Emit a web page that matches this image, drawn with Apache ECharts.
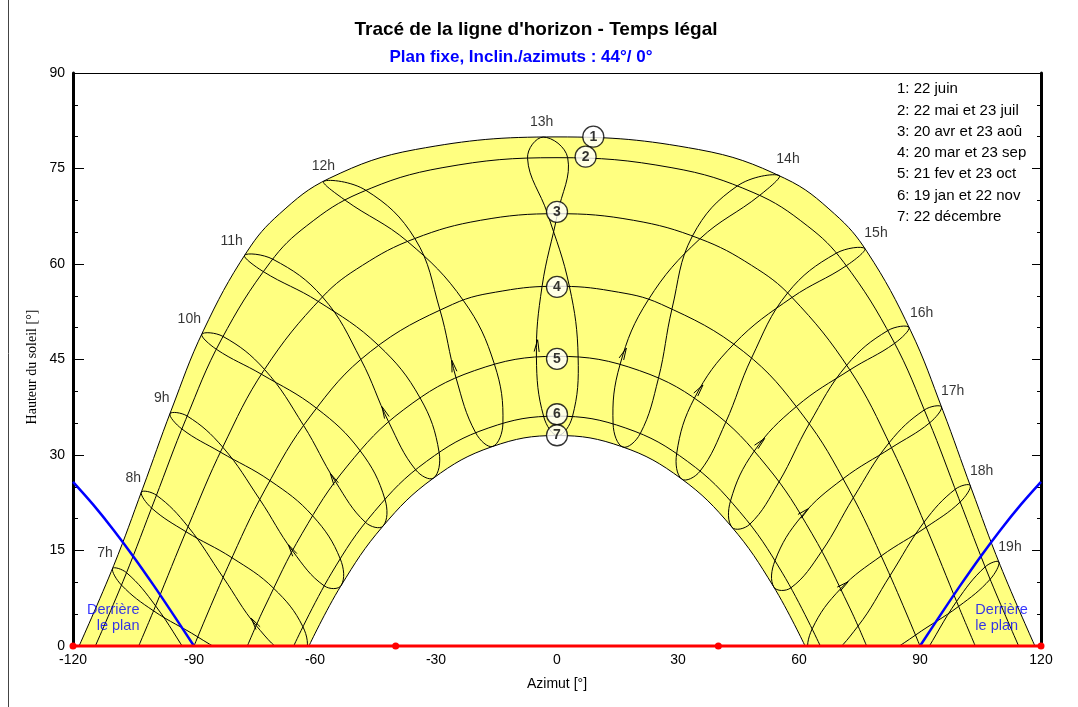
<!DOCTYPE html>
<html>
<head>
<meta charset="utf-8">
<script src="https://cdn.jsdelivr.net/npm/echarts@6/dist/echarts.min.js"></script>
<style>html,body{margin:0;padding:0;background:#fff}#c{width:1078px;height:707px}</style>
</head>
<body>
<div id="c"></div>
<script>
// ---- Date curves [azimut, hauteur] ----
const curve1 = [[-118.49,0],[-109.88,12.68],[-102.76,24.68],[-95.65,37.02],[-87.70,49.50],[-76.90,61.90],[-68.81,67.87],[-56.45,73.46],[-35.11,77.98],[0,79.96],[35.11,77.98],[56.45,73.46],[68.81,67.87],[76.90,61.90],[87.70,49.50],[95.65,37.02],[102.76,24.68],[109.88,12.68],[118.49,0]];
const curve2 = [[-114.46,0],[-107.06,10.99],[-99.63,23.15],[-92.04,35.58],[-83.27,48.07],[-71.10,60.26],[-62.04,66.01],[-48.83,71.18],[-28.50,75.12],[0,76.70],[28.50,75.12],[48.83,71.18],[62.04,66.01],[71.10,60.26],[83.27,48.07],[92.04,35.58],[99.63,23.15],[107.06,10.99],[114.46,0]];
const curve3 = [[-103.71,0],[-99.55,6.26],[-91.50,18.70],[-82.90,31.19],[-72.56,43.40],[-58.21,54.79],[-48.23,59.79],[-35.34,63.98],[-19.00,66.86],[0,67.90],[19.00,66.86],[35.34,63.98],[48.23,59.79],[58.21,54.79],[72.56,43.40],[82.90,31.19],[91.50,18.70],[99.55,6.26],[103.71,0]];
const curve4 = [[-90,0],[-81.59,12.46],[-72.32,24.64],[-61.10,36.13],[-46.29,46.23],[-25.90,53.66],[-13.42,55.77],[0,56.50],[13.42,55.77],[25.90,53.66],[46.29,46.23],[61.10,36.13],[72.32,24.64],[81.59,12.46],[90,0]];
const curve5 = [[-76.77,0],[-72.48,6.12],[-63.17,17.70],[-52.00,28.26],[-37.99,37.13],[-20.42,43.26],[0,45.50],[20.42,43.26],[37.99,37.13],[52.00,28.26],[63.17,17.70],[72.48,6.12],[76.77,0]];
const curve6 = [[-65.29,0],[-55.91,11.44],[-45.27,21.12],[-32.39,28.98],[-17.06,34.23],[0,36.10],[17.06,34.23],[32.39,28.98],[45.27,21.12],[55.91,11.44],[65.29,0]];
const curve7 = [[-61.51,0],[-53.64,9.38],[-43.25,18.75],[-30.77,26.30],[-16.13,31.30],[0,33.06],[16.13,31.30],[30.77,26.30],[43.25,18.75],[53.64,9.38],[61.51,0]];

// ---- Hour analemmas: 22 dec, 19 jan, 21 fev, 20 mar, 20 avr, 22 mai, 22 juin, 23 juil, 23 aou, 23 sep, 23 oct, 22 nov ----
const h07 = [[-70.00,-12.50],[-74.20,-13.37],[-82.75,-9.06],[-91.13,-1.71],[-99.52,6.30],[-106.73,11.51],[-110.19,12.17],[-107.97,9.56],[-100.03,5.52],[-89.06,1.42],[-78.77,-2.97],[-71.09,-8.48]];
const h08 = [[-62.32,-1.08],[-66.44,-1.60],[-74.57,3.20],[-82.77,10.77],[-91.47,18.74],[-99.31,23.68],[-103.06,24.16],[-100.52,21.67],[-91.99,17.95],[-80.58,13.86],[-70.28,9.08],[-63.01,3.04]];
const h09 = [[-53.51,9.51],[-57.72,9.45],[-65.57,14.95],[-73.69,23.01],[-82.87,31.23],[-91.69,36.12],[-95.96,36.48],[-92.99,34.08],[-83.45,30.45],[-71.19,25.99],[-60.59,20.45],[-53.74,13.69]];
const h10 = [[-43.10,18.86],[-47.45,19.40],[-54.93,25.83],[-62.81,34.62],[-72.52,43.44],[-82.84,48.63],[-88.06,48.97],[-84.44,46.60],[-73.27,42.68],[-59.64,37.36],[-48.81,30.67],[-42.65,23.03]];
const h11 = [[-30.59,26.39],[-35.03,27.66],[-41.72,35.17],[-48.61,44.97],[-58.15,54.83],[-70.43,60.74],[-77.47,61.38],[-72.88,58.83],[-59.27,54.15],[-44.29,47.24],[-33.94,38.96],[-29.22,30.39]];
const h12 = [[-15.92,31.35],[-20.15,33.47],[-25.02,42.09],[-29.06,52.87],[-35.24,64.00],[-47.40,71.58],[-57.81,73.00],[-52.52,70.02],[-37.09,63.55],[-23.19,54.24],[-15.50,44.23],[-13.41,34.96]];
const h13 = [[0.22,33.06],[-3.30,36.03],[-5.10,45.36],[-3.71,56.45],[0.13,67.90],[2.65,76.69],[-3.41,79.93],[-7.31,76.61],[-2.34,67.89],[3.08,56.47],[5.24,45.36],[3.82,36.01]];
const h14 = [[16.34,31.25],[13.91,34.87],[15.63,44.21],[22.62,54.36],[35.44,63.96],[50.21,70.76],[55.07,73.91],[44.73,72.27],[33.59,64.41],[28.53,53.01],[25.15,42.05],[20.63,33.35]];
const h15 = [[30.95,26.21],[29.66,30.20],[34.06,38.91],[43.88,47.45],[58.27,54.75],[71.76,59.74],[76.30,62.43],[69.19,61.68],[57.15,55.43],[48.21,45.19],[41.82,35.12],[35.44,27.44]];
const h16 = [[43.40,18.64],[43.01,22.77],[48.90,30.61],[59.34,37.61],[72.60,43.36],[83.69,47.53],[87.28,50.05],[82.06,49.56],[71.85,44.12],[62.52,34.88],[55.02,25.75],[47.79,19.12]];
const h17 = [[53.77,9.25],[54.04,13.39],[60.66,20.38],[70.93,26.27],[82.93,31.15],[92.38,35.04],[95.32,37.56],[91.08,37.08],[82.35,31.93],[73.47,23.29],[65.63,14.87],[58.00,9.14]];
const h18 = [[62.54,-1.38],[63.28,2.70],[70.33,9.00],[80.39,14.15],[91.53,18.66],[99.95,22.61],[102.46,25.21],[98.75,24.63],[91.01,19.45],[82.58,11.06],[74.62,3.12],[66.68,-1.94]];
const h19 = [[70.23,-12.80],[71.33,-8.83],[78.82,-3.05],[88.87,1.71],[99.58,6.22],[107.38,10.47],[109.56,13.20],[106.15,12.43],[99.07,7.00],[90.94,-1.42],[82.80,-9.14],[74.42,-13.73]];
const hourCurves = [h07,h08,h09,h10,h11,h12,h13,h14,h15,h16,h17,h18,h19];

// ---- Hour labels ----
const hourLabels = ['7h','8h','9h','10h','11h','12h','13h','14h','15h','16h','17h','18h','19h'];
const hourLabelAz = [-112.07,-105.05,-98.01,-91.17,-80.66,-57.94,-3.79,57.27,79.09,90.42,98.10,105.29,112.31];
const hourLabelAlt = [14.56,26.42,38.91,51.31,63.66,75.39,82.26,76.44,64.82,52.26,40.05,27.53,15.60];

// ---- Date markers and legend ----
const dateMarks = ['1','2','3','4','5','6','7'];
const dateMarkAz = [9.0,7.1,0,0,0,0,0];
const dateMarkAlt = [80.0,76.85,68.2,56.4,45.1,36.4,33.1];
const legendLines = ['1: 22 juin','2: 22 mai et 23 juil','3: 20 avr et 23 aoû','4: 20 mar et 23 sep','5: 21 fev et 23 oct','6: 19 jan et 22 nov','7: 22 décembre'];

// ---- Direction arrows (21 fev -> 20 mar segment) ----
const arrowPts = [[-75.8,4.35],[-66.6,15.9],[-56.2,27.1],[-43.4,37.6],[-26.1,44.9],[-4.8,48.1],[17.2,46.8],[36.2,41.0],[51.5,32.6],[62.4,21.6],[72.2,10.1]];
const arrowHour = [1,2,3,4,5,6,7,8,9,10,11];

// ---- Plane limit (Derriere le plan) ----
const planeLeftAz = [-120,-115,-110,-105,-100,-95,-90];
const planeLeftAlt = [25.78,22.20,18.27,14.03,9.52,4.81,0];
const planeRightAz = [90,95,100,105,110,115,120];
const planeRightAlt = [0,4.81,9.52,14.03,18.27,22.20,25.78];
const behindText = 'Derrière\nle plan';
const behindAz = [-103.4,103.6];
const behindAlt = [4.4,4.4];

// ---- Horizon ----
const horizonAz = [-120,-40,40,120];
const horizonAlt = [0,0,0,0];

const FONT = 'Liberation Sans, Arial, sans-serif';
const chart = echarts.init(document.getElementById('c'), null, {renderer:'canvas'});

function dateLine(data, extra) {
  return Object.assign({type:'line', data:data, symbol:'none', smooth:0.4, silent:true, z:2,
    lineStyle:{color:'#000', width:1}}, extra || {});
}

const series = [
  dateLine(curve1, {areaStyle:{color:'#ffff80', opacity:1, origin:'start'}}),
  dateLine(curve7, {areaStyle:{color:'#ffffff', opacity:1, origin:'start'}}),
  dateLine(curve2), dateLine(curve3), dateLine(curve4), dateLine(curve5), dateLine(curve6),
  {
    type:'custom', clip:true, silent:true, z:3,
    data: hourCurves.map(c => c[6]),
    renderItem: function (params, api) {
      const pts = hourCurves[params.dataIndex].map(p => api.coord(p));
      return {type:'polygon', shape:{points:pts, smooth:0.4},
        style:{fill:'none', stroke:'#000', lineWidth:1}};
    }
  },
  {
    type:'custom', clip:true, silent:true, z:3,
    data: arrowPts,
    renderItem: function (params, api) {
      const i = params.dataIndex;
      const p = api.coord(arrowPts[i]);
      const q = api.coord(hourCurves[arrowHour[i]][3]);
      const dx = q[0]-p[0], dy = q[1]-p[1];
      const L = Math.sqrt(dx*dx+dy*dy);
      const ux = dx/L, uy = dy/L, len = 12, w = 2.5;
      return {type:'polyline', shape:{points:[
        [p[0]-ux*len - uy*w, p[1]-uy*len + ux*w], p, [p[0]-ux*len + uy*w, p[1]-uy*len - ux*w]]},
        style:{fill:'none', stroke:'#000', lineWidth:1}};
    }
  },
  {type:'line', z:4, data: planeLeftAz.map((a,i)=>[a, planeLeftAlt[i]]), symbol:'none', smooth:0.3, silent:true,
    lineStyle:{color:'#0000ff', width:2.5}},
  {type:'line', z:4, data: planeRightAz.map((a,i)=>[a, planeRightAlt[i]]), symbol:'none', smooth:0.3, silent:true,
    lineStyle:{color:'#0000ff', width:2.5}},
  {type:'line', z:4, data: horizonAz.map((a,i)=>[a, horizonAlt[i]]), symbol:'circle', symbolSize:7, showAllSymbol:true,
    clip:false, silent:true, lineStyle:{color:'#ff0000', width:3}, itemStyle:{color:'#ff0000'}},
  {type:'scatter', silent:true, symbol:'circle', symbolSize:21, z:6,
    itemStyle:{color:'#ffffff', borderColor:'#000', borderWidth:1.3},
    label:{show:true, position:'inside', formatter:'{b}', color:'#000', fontWeight:'bold', fontSize:14, fontFamily:FONT},
    data: dateMarks.map((n,i)=>({name:n, value:[dateMarkAz[i], dateMarkAlt[i]]}))},
  {type:'scatter', silent:true, symbolSize:1, z:6, itemStyle:{color:'rgba(0,0,0,0)'},
    label:{show:true, position:'inside', formatter:'{b}', color:'#000', fontSize:14, fontFamily:FONT},
    data: hourLabels.map((n,i)=>({name:n, value:[hourLabelAz[i], hourLabelAlt[i]]}))},
  {type:'scatter', silent:true, symbolSize:1, z:6, itemStyle:{color:'rgba(0,0,0,0)'},
    data: [
      {name:behindText, value:[behindAz[0], behindAlt[0]], label:{show:true, position:'left', distance:0, align:'right'}},
      {name:behindText, value:[behindAz[1], behindAlt[1]], label:{show:true, position:'right', distance:0, align:'left'}}
    ],
    label:{formatter:'{b}', color:'#0000ff', fontSize:14.5, lineHeight:16, fontFamily:FONT}}
];

const graphic = [
  {type:'text', x:536, y:30, silent:true, style:{text:"Tracé de la ligne d'horizon - Temps légal", font:'bold 19px ' + FONT, fill:'#000', textAlign:'center', textVerticalAlign:'middle'}},
  {type:'text', x:521, y:57, silent:true, style:{text:'Plan fixe, Inclin./azimuts : 44°/ 0°', font:'bold 17px ' + FONT, fill:'#0000ff', textAlign:'center', textVerticalAlign:'middle'}},
  {type:'text', x:557, y:684, silent:true, style:{text:'Azimut [°]', font:'14px ' + FONT, fill:'#000', textAlign:'center', textVerticalAlign:'middle'}},
  {type:'text', x:32, y:367, rotation:Math.PI/2, silent:true, style:{text:'Hauteur du soleil [°]', font:'14px Liberation Serif, Times New Roman, serif', fill:'#000', textAlign:'center', textVerticalAlign:'middle'}},
  {type:'line', silent:true, shape:{x1:8.5, y1:0, x2:8.5, y2:707}, style:{stroke:'#444', lineWidth:1}}
].concat(legendLines.map((t,i)=>({type:'text', x:897, y:89.2 + 21.25*i, silent:true,
  style:{text:t, font:'15px ' + FONT, fill:'#000', textAlign:'left', textVerticalAlign:'middle'}})));

const axisCommon = {type:'value', splitLine:{show:false}, minorSplitLine:{show:false}};

chart.setOption({
  animation:false,
  backgroundColor:'#ffffff',
  textStyle:{fontFamily:FONT},
  grid:{left:73, right:37, top:73, bottom:61, outerBoundsMode:'none', containLabel:false},
  xAxis:[
    Object.assign({}, axisCommon, {min:-120, max:120, interval:30, position:'bottom',
      axisLine:{show:true, onZero:false, lineStyle:{color:'#000', width:1}},
      axisTick:{show:true, inside:true, length:9, lineStyle:{color:'#000'}},
      minorTick:{show:true, splitNumber:3, length:4, lineStyle:{color:'#000'}},
      axisLabel:{color:'#000', fontSize:14, fontFamily:FONT, margin:7}}),
    Object.assign({}, axisCommon, {min:-120, max:120, interval:30, position:'top',
      axisLine:{show:true, onZero:false, lineStyle:{color:'#000', width:1}},
      axisTick:{show:false}, minorTick:{show:false}, axisLabel:{show:false}})
  ],
  yAxis:[
    Object.assign({}, axisCommon, {min:0, max:90, interval:15, position:'left',
      axisLine:{show:true, onZero:false, lineStyle:{color:'#000', width:3}},
      axisTick:{show:true, inside:true, length:11, lineStyle:{color:'#000'}},
      minorTick:{show:true, splitNumber:3, length:5, lineStyle:{color:'#000'}},
      axisLabel:{color:'#000', fontSize:14, fontFamily:FONT, margin:8}}),
    Object.assign({}, axisCommon, {min:0, max:90, interval:15, position:'right',
      axisLine:{show:true, onZero:false, lineStyle:{color:'#000', width:3}},
      axisTick:{show:true, inside:true, length:9, lineStyle:{color:'#000'}},
      minorTick:{show:true, splitNumber:3, length:4, lineStyle:{color:'#000'}},
      axisLabel:{show:false}})
  ],
  series: series,
  graphic: graphic
});
</script>
</body>
</html>
